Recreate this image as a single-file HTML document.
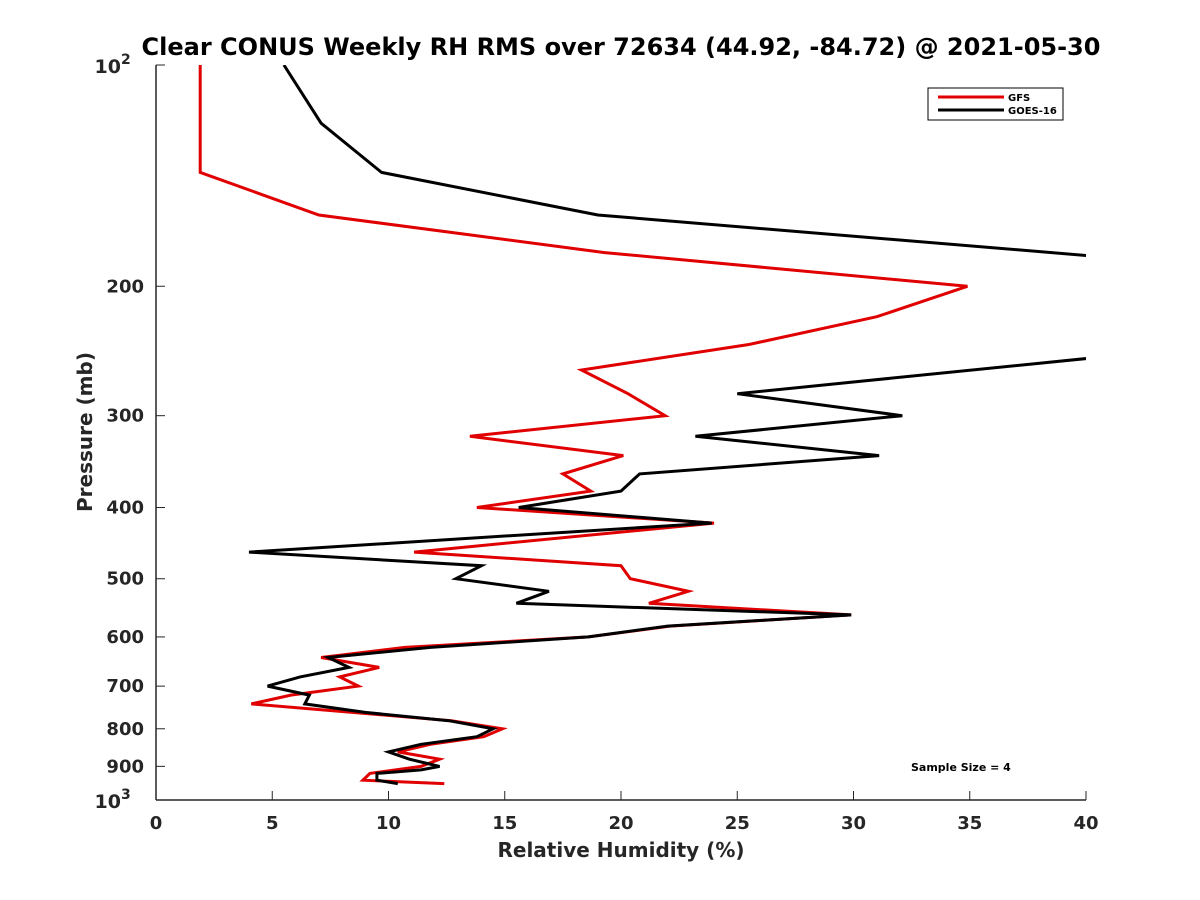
<!DOCTYPE html>
<html><head><meta charset="utf-8"><style>
body{margin:0;background:#fff}
svg{display:block;font-family:"DejaVu Sans","Liberation Sans",sans-serif;font-weight:bold}
</style></head><body>
<svg id="chart" width="1200" height="900">
<defs><clipPath id="clip"><rect x="156" y="65" width="930" height="735"/></clipPath></defs>
<text x="621" y="55" text-anchor="middle" font-size="24" fill="#000">Clear CONUS Weekly RH RMS over 72634 (44.92, -84.72) @ 2021-05-30</text>
<g id="axes"></g>
<g id="series" clip-path="url(#clip)"></g>
<g>
<rect x="928" y="88" width="135" height="32" fill="#fff" stroke="#000" stroke-width="1"/>
<line x1="938" y1="97" x2="1004" y2="97" stroke="#e00000" stroke-width="3"/>
<text x="1008" y="101" font-size="10" fill="#000">GFS</text>
<line x1="938" y1="110" x2="1004" y2="110" stroke="#000" stroke-width="3"/>
<text x="1008" y="114" font-size="10" fill="#000">GOES-16</text>
</g>
<text x="911" y="771" font-size="11" fill="#000">Sample Size = 4</text>
<text x="621" y="857" text-anchor="middle" font-size="20" fill="#262626">Relative Humidity (%)</text>
<text transform="translate(92,432) rotate(-90)" text-anchor="middle" font-size="20" fill="#262626">Pressure (mb)</text>
</svg>
<script>
const xTicks=[0,5,10,15,20,25,30,35,40];
const yTicks=[200,300,400,500,600,700,800,900];
const gfsP=[100,140,160,180,200,220,240,260,280,300,320,340,360,380,400,420,460,480,500,520,540,560,580,600,620,640,660,680,700,720,740,780,800,820,840,860,880,900,920,940,950];
const gfsRH=[1.9,1.9,7.0,19.3,34.9,31.0,25.5,18.3,20.3,21.9,13.5,20.1,17.5,18.7,13.8,24.0,11.1,20.0,20.4,22.9,21.2,29.9,22.1,18.6,10.7,7.1,9.6,7.9,8.7,5.8,4.1,12.7,14.9,14.1,11.8,10.4,12.2,11.4,9.2,8.9,12.4];
const goesP=[100,120,140,160,200,220,240,280,300,320,340,360,380,400,420,460,480,500,520,540,560,580,600,620,640,660,680,700,720,740,760,780,800,820,840,860,880,900,910,920,940,950];
const goesRH=[5.5,7.1,9.7,19.0,56,50,46,25.0,32.1,23.2,31.1,20.8,20.0,15.6,23.9,4.0,14.0,12.9,16.9,15.5,29.9,22.0,18.6,11.8,7.4,8.3,6.2,4.8,6.6,6.4,9.0,12.6,14.5,13.8,11.4,10.0,10.9,12.2,11.4,9.5,9.5,10.4];
const X0=156,X1=1086,Y0=65,Y1=800;
const xs=v=>X0+(v/40)*(X1-X0);
const ys=p=>Y0+(Math.log10(p)-2)*(Y1-Y0);
const NS="http://www.w3.org/2000/svg";
function mk(t,a,parent){const e=document.createElementNS(NS,t);for(const k in a)e.setAttribute(k,a[k]);parent.appendChild(e);return e;}
const ax=document.getElementById('axes');
const yl=mk('line',{x1:X0,y1:Y0,x2:X0,y2:Y1,stroke:'#262626','stroke-width':1.5},ax);


const xl=mk('line',{x1:X0,y1:Y1,x2:X1,y2:Y1,stroke:'#262626','stroke-width':1.5},ax);


xTicks.forEach(v=>{
  const l=mk('line',{x1:xs(v),y1:Y1,x2:xs(v),y2:Y1-9,stroke:'#262626','stroke-width':1},ax);
  
  
  const t=mk('text',{x:xs(v),y:Y1+29,'text-anchor':'middle','font-size':18,fill:'#262626'},ax);
  t.textContent=v;
  
  
});
yTicks.concat([100,1000]).forEach(p=>{
  const l=mk('line',{x1:X0,y1:ys(p),x2:X0+9,y2:ys(p),stroke:'#262626','stroke-width':1},ax);
  
  
});
yTicks.forEach(p=>{
  const t=mk('text',{x:X0-12,y:ys(p)+6,'text-anchor':'end','font-size':18,fill:'#262626'},ax);
  t.textContent=p;
  
  
});
[[100,'2'],[1000,'3']].forEach(([p,e])=>{
  const t=mk('text',{x:X0-35,y:ys(p)+8,'text-anchor':'end','font-size':19,fill:'#262626'},ax);
  t.textContent='10';
  
  
  const s=mk('text',{x:X0-35,y:ys(p)-1,'text-anchor':'start','font-size':14,fill:'#262626'},ax);
  s.textContent=e;
  
  
});
const sg=document.getElementById('series');
function line(P,V,col,name){
  const pts=P.map((p,i)=>xs(V[i]).toFixed(1)+','+ys(p).toFixed(1)).join(' ');
  const pl=mk('polyline',{points:pts,fill:'none',stroke:col,'stroke-width':3,'stroke-linejoin':'miter'},sg);
  
  
}
line(gfsP,gfsRH,'#e00000','gfs-line');
line(goesP,goesRH,'#000','goes16-line');
</script>
</body></html>
